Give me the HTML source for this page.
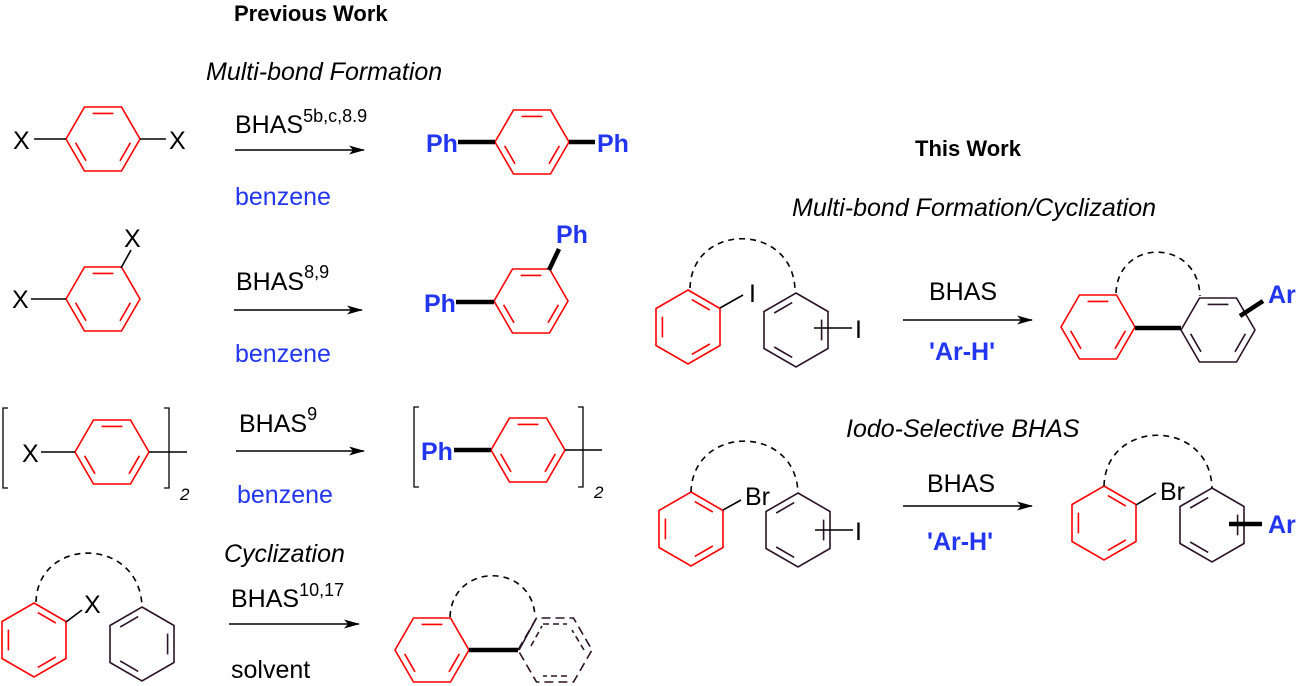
<!DOCTYPE html>
<html><head><meta charset="utf-8"><style>
html,body{margin:0;padding:0;background:#fff;}
svg{display:block;font-family:"Liberation Sans",Arial,sans-serif;}
.t{font-size:25px;fill:#000}
.i{font-style:italic}
.b{fill:#2236f0;font-weight:bold}
.bl{fill:#2236f0}
</style></head><body>
<svg width="1299" height="686" viewBox="0 0 1299 686" xmlns="http://www.w3.org/2000/svg">
<defs>
<marker id="ah" markerWidth="16" markerHeight="10" refX="15" refY="5" orient="auto" markerUnits="userSpaceOnUse"><path d="M0,0.5 L16,5 L0,9.5 L4,5 Z" fill="#000"/></marker>
<g id="F"><polygon points="-37,0 -18.5,-32 18.5,-32 37,0 18.5,32 -18.5,32" fill="none"/></g>
<g id="FA" fill="none"><path d="M-10.4,-25.6L10.4,-25.6M27.4,3.8L17,21.8M-17,21.8L-27.4,3.8"/></g>
<g id="P"><polygon points="0,-37 32,-18.5 32,18.5 0,37 -32,18.5 -32,-18.5" fill="none"/></g>
<g id="PA" fill="none"><path d="M3.8,-27.4L21.8,-17M21.8,17L3.8,27.4M-25.6,10.4L-25.6,-10.4"/></g>
<g id="PB" fill="none"><path d="M25.6,-10.4L25.6,10.4M-3.8,27.4L-21.8,17M-21.8,-17L-3.8,-27.4"/></g>
</defs>

<text x="234" y="21" class="t" style="font-weight:bold;font-size:22px">Previous Work</text>
<text x="206" y="80" class="t i">Multi-bond Formation</text>
<text x="915" y="156" class="t" style="font-weight:bold;font-size:22px">This Work</text>
<text x="792" y="216" class="t i">Multi-bond Formation/Cyclization</text>
<text x="846" y="437" class="t i">Iodo-Selective BHAS</text>
<text x="224" y="562" class="t i">Cyclization</text>

<g stroke-width="1.6">
<g stroke="#f00"><use href="#F" x="103" y="139"/><use href="#FA" x="103" y="139"/></g>
<path d="M34,139H66M140,139H166" stroke="#000"/>
<text x="13" y="149" class="t">X</text><text x="169" y="149" class="t">X</text>
<g stroke="#f00"><use href="#F" x="532" y="142"/><use href="#FA" x="532" y="142"/></g>
<path d="M458,142H495M569,142H595" stroke="#000" stroke-width="4.5"/>
<text x="426" y="152" class="t b">Ph</text><text x="597" y="152" class="t b">Ph</text>

<g stroke="#f00"><use href="#F" x="103" y="299"/><use href="#FA" x="103" y="299"/></g>
<path d="M31,299H66M121,268L131,250" stroke="#000"/>
<text x="12" y="308" class="t">X</text><text x="124" y="247" class="t">X</text>
<g stroke="#f00"><use href="#F" x="531" y="301"/><use href="#FA" x="531" y="301"/></g>
<path d="M456,302H494M549,270L559,249" stroke="#000" stroke-width="4.5"/>
<text x="424" y="312" class="t b">Ph</text><text x="556" y="243" class="t b">Ph</text>

<path d="M8,408H3V488H8M164,408H169V488H164" stroke="#000" fill="none" stroke-width="1.3"/>
<g stroke="#f00"><use href="#F" x="112" y="452"/><use href="#FA" x="112" y="452"/></g>
<path d="M41,452H75M149,452H187" stroke="#000"/>
<text x="22" y="462" class="t">X</text>
<text x="180" y="500" class="t i" style="font-size:17px">2</text>
<path d="M419,407H414V487H419M578,407H583V487H578" stroke="#000" fill="none" stroke-width="1.3"/>
<g stroke="#f00"><use href="#F" x="528" y="450"/><use href="#FA" x="528" y="450"/></g>
<path d="M454,450H491" stroke="#000" stroke-width="4.5"/>
<path d="M565,450H602" stroke="#000"/>
<text x="421" y="460" class="t b">Ph</text>
<text x="594" y="498" class="t i" style="font-size:17px">2</text>

<g stroke="#f00"><use href="#P" x="34" y="640"/><use href="#PA" x="34" y="640"/></g>
<g stroke="#2b1326"><use href="#P" x="142" y="644"/><use href="#PB" x="142" y="644"/></g>
<path d="M66,622L82,610" stroke="#000"/>
<text x="84" y="613" class="t">X</text>
<path d="M36,602C38,536 140,536 142,607" stroke="#000" fill="none" stroke-dasharray="6,5"/>
<g stroke="#f00"><use href="#F" x="432" y="650"/><use href="#FA" x="432" y="650"/></g>
<polygon points="518,650 536.5,618 573.5,618 592,650 573.5,682 536.5,682" fill="none" stroke="#2b1326" stroke-dasharray="9,5"/>
<path d="M519,650L536.5,618" stroke="#2b1326"/>
<path d="M531,646L542,626M543,624H567M584,650L572,630M567,676H543" stroke="#2b1326" stroke-dasharray="6,4"/>
<path d="M469,650H518" stroke="#000" stroke-width="4.5"/>
<path d="M450,617C452,562 533,562 535,617" stroke="#000" fill="none" stroke-dasharray="6,5"/>

<g stroke="#f00"><use href="#P" x="688" y="327"/><use href="#PA" x="688" y="327"/></g>
<g stroke="#2b1326"><use href="#P" x="796" y="330"/><use href="#PB" x="796" y="330"/></g>
<path d="M720,308L743,295M814,328H852" stroke="#000"/>
<text x="749" y="302" class="t">I</text><text x="855" y="338" class="t">I</text>
<path d="M690,288C692,222 793,222 795,290" stroke="#000" fill="none" stroke-dasharray="6,5"/>
<g stroke="#f00"><use href="#F" x="1098" y="327"/><use href="#FA" x="1098" y="327"/></g>
<g stroke="#2b1326"><use href="#F" x="1218" y="330"/><use href="#FA" x="1218" y="330"/></g>
<path d="M1135,328H1181M1240,316L1263,301" stroke="#000" stroke-width="4.5"/>
<text x="1268" y="303" class="t b">Ar</text>
<path d="M1116,293C1118,238 1198,238 1200,296" stroke="#000" fill="none" stroke-dasharray="6,5"/>

<g stroke="#f00"><use href="#P" x="691" y="529"/><use href="#PA" x="691" y="529"/></g>
<g stroke="#2b1326"><use href="#P" x="798" y="530"/><use href="#PB" x="798" y="530"/></g>
<path d="M723,510L741,500M815,530H853" stroke="#000"/>
<text x="745" y="505" class="t">Br</text><text x="855" y="540" class="t">I</text>
<path d="M691,492C693,424 796,424 798,493" stroke="#000" fill="none" stroke-dasharray="6,5"/>
<g stroke="#f00"><use href="#P" x="1104" y="523"/><use href="#PA" x="1104" y="523"/></g>
<g stroke="#2b1326"><use href="#P" x="1212" y="525"/><use href="#PB" x="1212" y="525"/></g>
<path d="M1136,505L1156,493" stroke="#000"/>
<text x="1160" y="500" class="t">Br</text>
<path d="M1229,524H1262" stroke="#000" stroke-width="4.5"/>
<text x="1268" y="533" class="t b">Ar</text>
<path d="M1104,486C1106,418 1210,418 1212,488" stroke="#000" fill="none" stroke-dasharray="6,5"/>

<g stroke="#000" stroke-width="1.5" marker-end="url(#ah)">
<path d="M235,150H364"/><path d="M234,310H362"/><path d="M236,451H364"/><path d="M229,624H359"/>
<path d="M903,320H1032"/><path d="M903,506H1032"/>
</g>
</g>

<text x="235" y="133" class="t">BHAS<tspan dy="-11" font-size="18">5b,c,8.9</tspan></text>
<text x="235" y="205" class="t bl">benzene</text>
<text x="236" y="290" class="t">BHAS<tspan dy="-12" font-size="18">8,9</tspan></text>
<text x="235" y="362" class="t bl">benzene</text>
<text x="239" y="432" class="t">BHAS<tspan dy="-12" font-size="18">9</tspan></text>
<text x="237" y="503" class="t bl">benzene</text>
<text x="231" y="607" class="t">BHAS<tspan dy="-11" font-size="18">10,17</tspan></text>
<text x="231" y="678" class="t">solvent</text>
<text x="929" y="300" class="t">BHAS</text>
<text x="929" y="360" class="t b">'Ar-H'</text>
<text x="927" y="492" class="t">BHAS</text>
<text x="927" y="550" class="t b">'Ar-H'</text>
</svg>
</body></html>
